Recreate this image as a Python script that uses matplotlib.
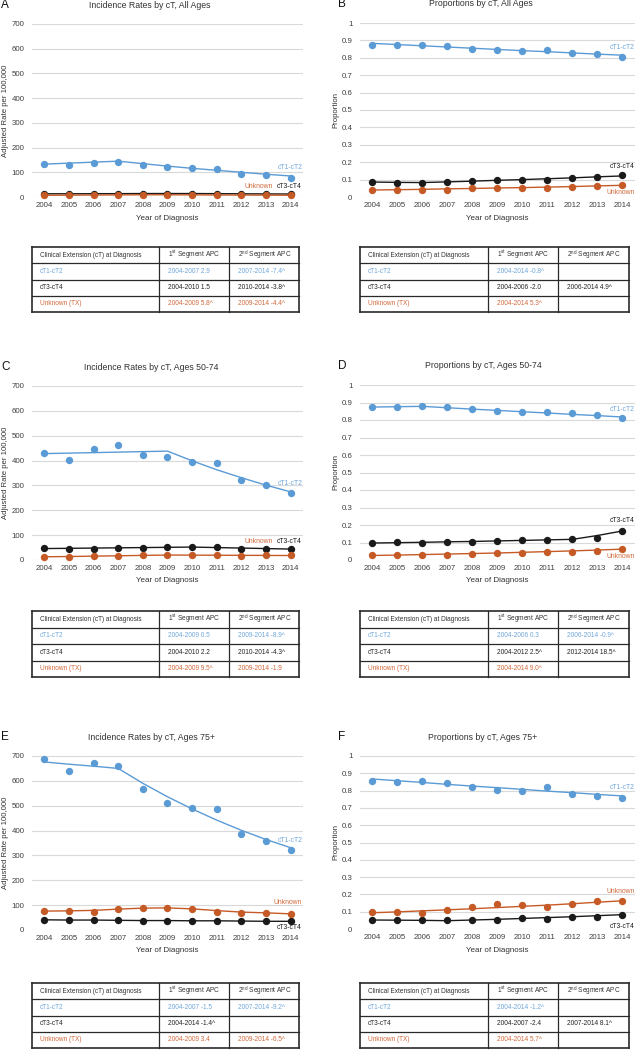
import matplotlib
matplotlib.use("Agg")
import matplotlib.pyplot as plt

plt.rcParams['font.family'] = ['Liberation Sans', 'DejaVu Sans']
plt.rcParams['mathtext.fontset'] = 'custom'
plt.rcParams['mathtext.rm'] = 'Liberation Sans'

# ---------------- data ----------------
years = [2004, 2005, 2006, 2007, 2008, 2009, 2010, 2011, 2012, 2013, 2014]

# Panel A: incidence, all ages
a_t12_obs = [135, 128, 139, 143, 128, 122, 116, 114, 94, 87, 78]
a_t12_fit = [133, 137, 141, 145, 135, 125, 116, 108, 100, 92, 85]
a_t34_obs = [13, 13, 13, 14, 14, 14, 14, 13, 12, 12, 12]
a_t34_fit = [13, 13, 13.5, 13.5, 14, 14, 14, 13.5, 13, 12.5, 12]
a_unk_obs = [7, 7, 8, 9, 9, 9, 9, 8, 8, 8, 7]
a_unk_fit = [7, 7.5, 8, 8.5, 9, 9, 8.6, 8.2, 7.9, 7.5, 7.2]

# Panel B: proportions, all ages
b_t12_obs = [0.876, 0.872, 0.876, 0.866, 0.853, 0.844, 0.840, 0.844, 0.830, 0.819, 0.802]
b_t12_fit = [0.883, 0.876, 0.869, 0.862, 0.855, 0.848, 0.841, 0.835, 0.828, 0.821, 0.815]
b_t34_obs = [0.084, 0.082, 0.080, 0.084, 0.090, 0.095, 0.097, 0.097, 0.107, 0.113, 0.124]
b_t34_fit = [0.086, 0.084, 0.083, 0.087, 0.091, 0.096, 0.100, 0.105, 0.110, 0.116, 0.121]
b_unk_obs = [0.040, 0.040, 0.038, 0.042, 0.050, 0.053, 0.053, 0.053, 0.057, 0.063, 0.069]
b_unk_fit = [0.040, 0.042, 0.044, 0.047, 0.049, 0.052, 0.054, 0.057, 0.060, 0.064, 0.067]

# Panel C: incidence, ages 50-74
c_t12_obs = [429, 402, 445, 461, 422, 416, 394, 392, 323, 302, 268]
c_t12_fit = [428, 430, 432, 434, 436, 438, 399, 363, 331, 301, 274]
c_t34_obs = [47, 44, 46, 50, 50, 52, 52, 51, 46, 44, 44]
c_t34_fit = [46, 47, 48, 49, 50, 51, 52, 50, 48, 46, 44]
c_unk_obs = [13, 13, 15, 17, 20, 21, 20, 20, 17, 19, 19]
c_unk_fit = [13, 14, 15.5, 17, 18.5, 20, 19.6, 19.2, 18.8, 18.4, 18]

# Panel D: proportions, ages 50-74
d_t12_obs = [0.874, 0.874, 0.878, 0.872, 0.861, 0.851, 0.846, 0.846, 0.838, 0.827, 0.810]
d_t12_fit = [0.874, 0.876, 0.878, 0.870, 0.862, 0.855, 0.847, 0.840, 0.832, 0.825, 0.817]
d_t34_obs = [0.099, 0.101, 0.099, 0.101, 0.105, 0.109, 0.112, 0.112, 0.118, 0.126, 0.168]
d_t34_fit = [0.097, 0.099, 0.101, 0.104, 0.106, 0.109, 0.112, 0.115, 0.118, 0.140, 0.166]
d_unk_obs = [0.027, 0.029, 0.029, 0.030, 0.036, 0.040, 0.042, 0.044, 0.046, 0.050, 0.065]
d_unk_fit = [0.026, 0.028, 0.031, 0.034, 0.037, 0.040, 0.044, 0.048, 0.052, 0.057, 0.062]

# Panel E: incidence, ages 75+
e_t12_obs = [688, 641, 673, 661, 566, 511, 492, 485, 385, 358, 323]
e_t12_fit = [676, 667, 659, 650, 590, 536, 487, 442, 401, 364, 331]
e_t34_obs = [41, 40, 40, 39, 38, 38, 38, 36, 36, 35, 35]
e_t34_fit = [41, 40, 40, 39, 38, 38, 37, 37, 36, 35, 35]
e_unk_obs = [77, 76, 74, 85, 89, 89, 84, 74, 68, 70, 64]
e_unk_fit = [76, 77, 79, 84, 88, 89, 85, 78, 72, 69, 65]

# Panel F: proportions, ages 75+
f_t12_obs = [0.856, 0.852, 0.858, 0.843, 0.818, 0.802, 0.795, 0.818, 0.783, 0.768, 0.756]
f_t12_fit = [0.867, 0.857, 0.847, 0.836, 0.826, 0.817, 0.807, 0.797, 0.788, 0.778, 0.769]
f_t34_obs = [0.052, 0.051, 0.050, 0.050, 0.053, 0.054, 0.063, 0.060, 0.068, 0.072, 0.083]
f_t34_fit = [0.052, 0.051, 0.050, 0.048, 0.052, 0.056, 0.061, 0.066, 0.071, 0.077, 0.083]
f_unk_obs = [0.096, 0.098, 0.094, 0.107, 0.129, 0.142, 0.140, 0.129, 0.146, 0.159, 0.159]
f_unk_fit = [0.094, 0.099, 0.105, 0.111, 0.117, 0.124, 0.131, 0.138, 0.146, 0.155, 0.163]

rate_ticks = [0, 100, 200, 300, 400, 500, 600, 700]
prop_ticks = [0, 0.1, 0.2, 0.3, 0.4, 0.5, 0.6, 0.7, 0.8, 0.9, 1]

table_header = ["Clinical Extension (cT) at Diagnosis",
                r"1$^{\mathrm{st}}$ Segment APC",
                r"2$^{\mathrm{nd}}$ Segment APC"]
row_names = ["cT1-cT2", "cT3-cT4", "Unknown (TX)"]
table_a = [["2004-2007 2.9", "2007-2014 -7.4^"],
           ["2004-2010 1.5", "2010-2014 -3.8^"],
           ["2004-2009 5.8^", "2009-2014 -4.4^"]]
table_b = [["2004-2014 -0.8^", ""],
           ["2004-2006 -2.0", "2006-2014 4.9^"],
           ["2004-2014 5.3^", ""]]
table_c = [["2004-2009 0.5", "2009-2014 -8.9^"],
           ["2004-2010 2.2", "2010-2014 -4.3^"],
           ["2004-2009 9.5^", "2009-2014 -1.9"]]
table_d = [["2004-2006 0.3", "2006-2014 -0.9^"],
           ["2004-2012 2.5^", "2012-2014 18.5^"],
           ["2004-2014 9.0^", ""]]
table_e = [["2004-2007 -1.5", "2007-2014 -9.2^"],
           ["2004-2014 -1.4^", ""],
           ["2004-2009 3.4", "2009-2014 -6.5^"]]
table_f = [["2004-2014 -1.2^", ""],
           ["2004-2007 -2.4", "2007-2014 8.1^"],
           ["2004-2014 5.7^", ""]]

# ---------------- styling ----------------
W, H = 636, 1050
fig = plt.figure(figsize=(W / 100, H / 100), dpi=100)

BLUE = '#5B9BD5'
BLUE_T = '#6FA6DA'
ORANGE = '#C65A26'
ORANGE_T = '#D0693A'
BLACK = '#1A1A1A'
TXT = '#333333'


def px_axes(x0, y0, x1, y1):
    return fig.add_axes([x0 / W, 1 - y1 / H, (x1 - x0) / W, (y1 - y0) / H])


def ftext(x, y, s, **kw):
    fig.text(x / W, 1 - y / H, s, **kw)


def draw_chart(rect, title, title_x, letter, letter_x, ylabel, ylabel_x,
               ylim, yticks, series, labels):
    x0, y0, x1, y1 = rect
    ax = px_axes(*rect)
    for obs, fit, color in series:
        ax.plot(years, fit, color=color, lw=1.0, zorder=2, clip_on=False)
        ax.plot(years, obs, 'o', color=color, ms=5.3, mec=color, mew=0,
                zorder=3, clip_on=False)
    ax.set_xlim(2003.5, 2014.5)
    ax.set_ylim(*ylim)
    ax.set_yticks(yticks)
    ax.set_yticklabels([f"{v:g}" for v in yticks])
    ax.set_xticks(years)
    ax.set_xticklabels([str(y) for y in years])
    ax.tick_params(axis='both', length=0, labelsize=5.7, colors='#404040')
    ax.tick_params(axis='y', pad=5.5)
    ax.tick_params(axis='x', pad=3.5)
    ax.grid(axis='y', color='#d9d9d9', lw=0.8)
    ax.set_axisbelow(True)
    for s in ax.spines.values():
        s.set_visible(False)
    for text, xv, yv, color in labels:
        ax.text(xv, yv, text, color=color, fontsize=4.9, ha='right',
                va='center', clip_on=False)
    ftext(title_x, y0 - 19, title, fontsize=6.3, color=TXT, ha='center', va='center')
    ftext(letter_x, y0 - 19, letter, fontsize=8.5, color='#111111', ha='left', va='center')
    ftext(ylabel_x, (y0 + y1) / 2, ylabel, fontsize=5.6, color=TXT, rotation=90,
          ha='center', va='center')
    ftext((x0 + x1) / 2, y1 + 21, "Year of Diagnosis", fontsize=5.8, color=TXT,
          ha='center', va='center')
    return ax


def draw_table(cols_x, top, bottom, cells):
    ax = px_axes(cols_x[0], top, cols_x[-1], bottom)
    ax.set_xlim(cols_x[0], cols_x[-1])
    ax.set_ylim(bottom, top)
    ax.axis('off')
    n = 4
    rows_y = [top + (bottom - top) * i / n for i in range(n + 1)]
    for i, y in enumerate(rows_y):
        lw = 1.2 if i in (0, n) else 0.9
        ax.plot([cols_x[0], cols_x[-1]], [y, y], color='#2a2a2a', lw=lw,
                clip_on=False, solid_capstyle='projecting')
    for j, x in enumerate(cols_x):
        lw = 1.2 if j in (0, len(cols_x) - 1) else 0.9
        ax.plot([x, x], [top, bottom], color='#2a2a2a', lw=lw, clip_on=False,
                solid_capstyle='projecting')
    pads = [8, 9, 9]
    row_colors = [TXT, BLUE_T, '#222222', ORANGE_T]
    all_rows = [table_header] + [[row_names[i]] + cells[i] for i in range(3)]
    for r, row in enumerate(all_rows):
        yc = (rows_y[r] + rows_y[r + 1]) / 2
        for c, txt in enumerate(row):
            ax.text(cols_x[c] + pads[c], yc, txt, fontsize=4.7, color=row_colors[r],
                    ha='left', va='center')


L_COLS = [32, 159, 229, 299]
R_COLS = [360, 488, 558, 629]

# Panel A
draw_chart((32, 24, 303, 197), "Incidence Rates by cT, All Ages", 150, "A", 1,
           "Adjusted Rate per 100,000", 6, (0, 700), rate_ticks,
           [(a_t34_obs, a_t34_fit, BLACK), (a_unk_obs, a_unk_fit, ORANGE),
            (a_t12_obs, a_t12_fit, BLUE)],
           [("cT1-cT2", 2014.5, 121, BLUE_T), ("cT3-cT4", 2014.45, 43, BLACK),
            ("Unknown", 2013.28, 43, ORANGE_T)])
draw_table(L_COLS, 247, 312, table_a)

# Panel B
draw_chart((360, 23, 635, 197), "Proportions by cT, All Ages", 481, "B", 338,
           "Proportion", 336, (0, 1), prop_ticks,
           [(b_t34_obs, b_t34_fit, BLACK), (b_unk_obs, b_unk_fit, ORANGE),
            (b_t12_obs, b_t12_fit, BLUE)],
           [("cT1-cT2", 2014.5, 0.857, BLUE_T), ("cT3-cT4", 2014.5, 0.176, BLACK),
            ("Unknown", 2014.5, 0.023, ORANGE_T)])
draw_table(R_COLS, 247, 312, table_b)

# Panel C
draw_chart((32, 386, 303, 560), "Incidence Rates by cT, Ages 50-74", 151, "C", 1,
           "Adjusted Rate per 100,000", 6, (0, 700), rate_ticks,
           [(c_t34_obs, c_t34_fit, BLACK), (c_unk_obs, c_unk_fit, ORANGE),
            (c_t12_obs, c_t12_fit, BLUE)],
           [("cT1-cT2", 2014.5, 308, BLUE_T), ("cT3-cT4", 2014.45, 76, BLACK),
            ("Unknown", 2013.28, 74, ORANGE_T)])
draw_table(L_COLS, 611, 677, table_c)

# Panel D
draw_chart((360, 385, 635, 560), "Proportions by cT, Ages 50-74", 483, "D", 338,
           "Proportion", 336, (0, 1), prop_ticks,
           [(d_t34_obs, d_t34_fit, BLACK), (d_unk_obs, d_unk_fit, ORANGE),
            (d_t12_obs, d_t12_fit, BLUE)],
           [("cT1-cT2", 2014.5, 0.859, BLUE_T), ("cT3-cT4", 2014.5, 0.223, BLACK),
            ("Unknown", 2014.5, 0.019, ORANGE_T)])
draw_table(R_COLS, 611, 677, table_d)

# Panel E
draw_chart((32, 756, 303, 930), "Incidence Rates by cT, Ages 75+", 151, "E", 1,
           "Adjusted Rate per 100,000", 6, (0, 700), rate_ticks,
           [(e_t34_obs, e_t34_fit, BLACK), (e_unk_obs, e_unk_fit, ORANGE),
            (e_t12_obs, e_t12_fit, BLUE)],
           [("cT1-cT2", 2014.5, 362, BLUE_T), ("cT3-cT4", 2014.45, 12, BLACK),
            ("Unknown", 2014.45, 110, ORANGE_T)])
draw_table(L_COLS, 983, 1048, table_e)

# Panel F
draw_chart((360, 756, 635, 929), "Proportions by cT, Ages 75+", 483, "F", 338,
           "Proportion", 336, (0, 1), prop_ticks,
           [(f_t34_obs, f_t34_fit, BLACK), (f_unk_obs, f_unk_fit, ORANGE),
            (f_t12_obs, f_t12_fit, BLUE)],
           [("cT1-cT2", 2014.5, 0.818, BLUE_T), ("cT3-cT4", 2014.5, 0.012, BLACK),
            ("Unknown", 2014.5, 0.215, ORANGE_T)])
draw_table(R_COLS, 983, 1048, table_f)

fig.savefig("out.png", dpi=100, facecolor='white')
